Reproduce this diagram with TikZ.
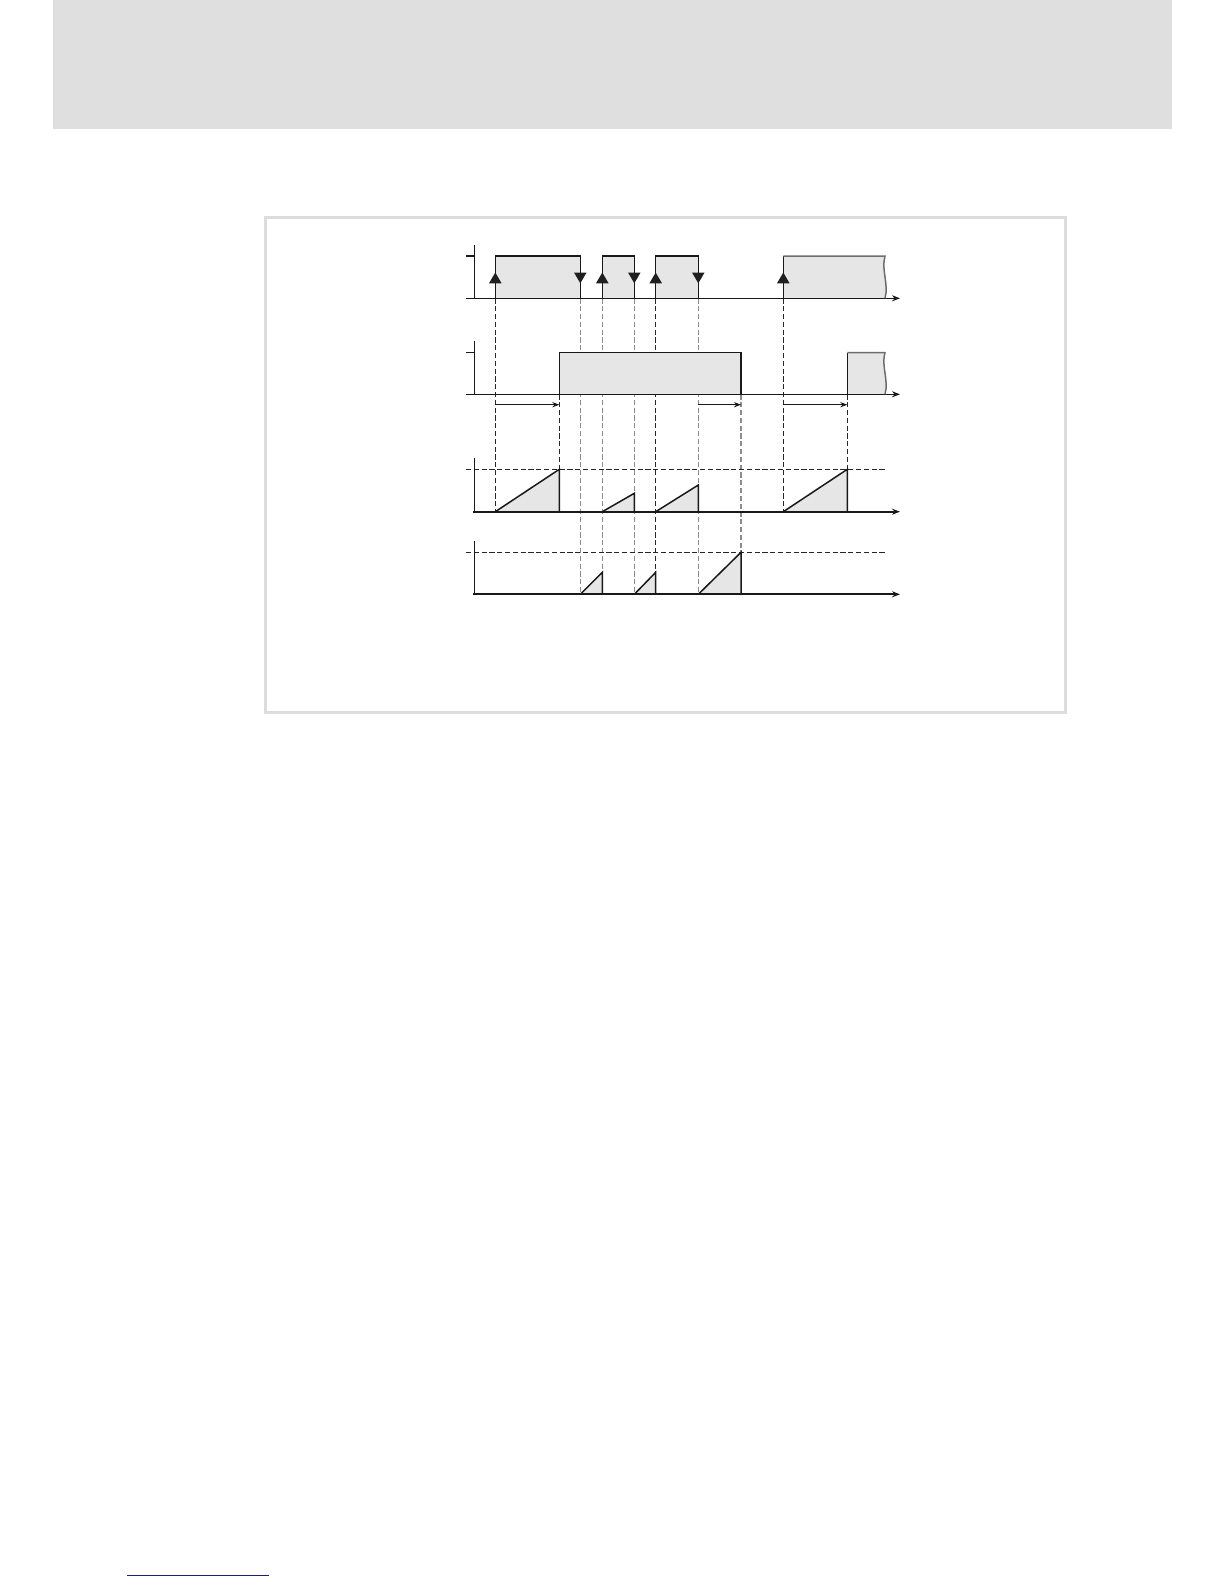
\documentclass[tikz,border=0pt]{standalone}
\usetikzlibrary{arrows.meta}
\definecolor{headgray}{HTML}{DFDFDF}
\definecolor{framegray}{HTML}{DCDCDC}
\definecolor{pulsefill}{HTML}{E6E6E6}
\definecolor{dashgray}{HTML}{8C8C8C}
\definecolor{edgegray}{HTML}{6E6E6E}
\definecolor{linkblue}{HTML}{1E1E78}
\tikzset{
  sig/.style={line width=0.75pt, black!90},
  axisline/.style={line width=0.7pt, black!90},
  axarrow/.style={axisline, -{Stealth[length=4pt,width=3pt]}},
  dsh/.style={line width=0.55pt, black!85, dash pattern=on 2.6pt off 1.3pt},
  dshg/.style={line width=0.55pt, dashgray, dash pattern=on 2.6pt off 1.3pt},
  thr/.style={line width=0.55pt, black!85, dash pattern=on 2.6pt off 1.3pt},
  tarrow/.style={line width=0.5pt, black!90, -{Stealth[length=3.5pt,width=2.6pt]}},
  tri/.style={fill=black!88, draw=none},
}
\begin{document}
\begin{tikzpicture}[x=0.5pt,y=-0.5pt]
\useasboundingbox (0,0) rectangle (1224,1584);
% header band and frame
\fill[headgray] (52.5,0) rectangle (1171.5,129);
\draw[framegray, line width=1.5pt] (265,217.5) rectangle (1065,712);
\draw[linkblue, line width=0.6pt] (127,1575.3) -- (269,1575.3);

% ---------- fills ----------
% plot 1 (input pulses)
\fill[pulsefill] (495.3,256) rectangle (580.3,298.3);
\fill[pulsefill] (602.3,256) rectangle (634.3,298.3);
\fill[pulsefill] (655.7,256) rectangle (698.3,298.3);
\fill[pulsefill] (783.3,256) -- (885,256) .. controls (881,270) and (889,284) .. (885,298.3) -- (783.3,298.3) -- cycle;
% plot 3 ramps
\fill[pulsefill] (495.3,511.7) -- (559.3,469.3) -- (559.3,511.7) -- cycle;
\fill[pulsefill] (602.3,511.7) -- (634.3,493.3) -- (634.3,511.7) -- cycle;
\fill[pulsefill] (655.7,511.7) -- (698.3,485) -- (698.3,511.7) -- cycle;
\fill[pulsefill] (783.3,511.7) -- (847.3,469.3) -- (847.3,511.7) -- cycle;
% plot 4 ramps
\fill[pulsefill] (580.3,594.3) -- (602.3,572.3) -- (602.3,594.3) -- cycle;
\fill[pulsefill] (634.3,594.3) -- (655.7,572.3) -- (655.7,594.3) -- cycle;
\fill[pulsefill] (698.3,594.3) -- (741,552.3) -- (741,594.3) -- cycle;

% ---------- dashed guide lines ----------
\draw[dsh] (495.3,298.3) -- (495.3,511.7);
\draw[dsh] (559.3,394.3) -- (559.3,469.3);
\draw[dshg] (580.3,298.3) -- (580.3,594.3);
\draw[dshg] (602.3,298.3) -- (602.3,572.3);
\draw[dshg] (634.3,298.3) -- (634.3,594.3);
\draw[dsh] (655.7,298.3) -- (655.7,572.3);
\draw[dshg] (698.3,298.3) -- (698.3,594.3);
\draw[dshg] (741,394.3) -- (741,552.3);
\draw[dsh] (783.3,298.3) -- (783.3,511.7);
\draw[dsh] (847.3,394.3) -- (847.3,469.3);
% thresholds
\draw[thr] (466,469.3) -- (885,469.3);
\draw[thr] (466,552.3) -- (885,552.3);

% plot 2 (output) fills cover the guide lines
\fill[pulsefill] (559.3,352.5) rectangle (741,394.3);
\fill[pulsefill] (847.3,352.5) -- (885,352.5) .. controls (881,366) and (889,380) .. (885,394.3) -- (847.3,394.3) -- cycle;

% ---------- axes ----------
\draw[axisline] (474.3,245) -- (474.3,298.3);
\draw[axisline] (466,256) -- (474.3,256);
\draw[axarrow] (466,298.3) -- (900,298.3);
\draw[axisline] (474.3,340.7) -- (474.3,394.3);
\draw[axisline] (466,352.5) -- (474.3,352.5);
\draw[axarrow] (466,394.3) -- (900,394.3);
\draw[axisline] (474.3,457.7) -- (474.3,511.7);
\draw[axarrow, line width=0.9pt] (473.3,511.7) -- (900,511.7);
\draw[axisline] (474.3,541) -- (474.3,594.3);
\draw[axarrow, line width=0.9pt] (473.3,594.3) -- (900,594.3);

% ---------- signal outlines ----------
\draw[sig] (495.3,298.3) -- (495.3,256) -- (580.3,256) -- (580.3,298.3);
\draw[sig] (602.3,298.3) -- (602.3,256) -- (634.3,256) -- (634.3,298.3);
\draw[sig] (655.7,298.3) -- (655.7,256) -- (698.3,256) -- (698.3,298.3);
\draw[sig] (783.3,298.3) -- (783.3,256);
\draw[sig, edgegray] (783.3,256) -- (885,256) .. controls (881,270) and (889,284) .. (885,298.3);
\draw[sig] (559.3,394.3) -- (559.3,352.5) -- (741,352.5) -- (741,394.3);
\draw[sig] (847.3,394.3) -- (847.3,352.5);
\draw[sig, edgegray] (847.3,352.5) -- (885,352.5) .. controls (881,366) and (889,380) .. (885,394.3);
% ramps plot 3
\draw[sig] (495.3,511.7) -- (559.3,469.3) -- (559.3,511.7);
\draw[sig] (602.3,511.7) -- (634.3,493.3) -- (634.3,511.7);
\draw[sig] (655.7,511.7) -- (698.3,485) -- (698.3,511.7);
\draw[sig] (783.3,511.7) -- (847.3,469.3) -- (847.3,511.7);
% ramps plot 4
\draw[sig] (580.3,594.3) -- (602.3,572.3) -- (602.3,594.3);
\draw[sig] (634.3,594.3) -- (655.7,572.3) -- (655.7,594.3);
\draw[sig] (698.3,594.3) -- (741,552.3) -- (741,594.3);

% ---------- delay arrows ----------
\draw[tarrow] (495.3,404.7) -- (559.3,404.7);
\draw[tarrow] (698.3,404.7) -- (741,404.7);
\draw[tarrow] (783.3,404.7) -- (847.3,404.7);

% ---------- edge triangles ----------
\foreach \xx in {495.3,602.3,655.7,783.3}
  \fill[tri] (\xx-6.3,283.3) -- (\xx+6.3,283.3) -- (\xx,272.5) -- cycle;
\foreach \xx in {580.3,634.3,698.3}
  \fill[tri] (\xx-6.3,272.5) -- (\xx+6.3,272.5) -- (\xx,283.3) -- cycle;
\end{tikzpicture}
\end{document}
